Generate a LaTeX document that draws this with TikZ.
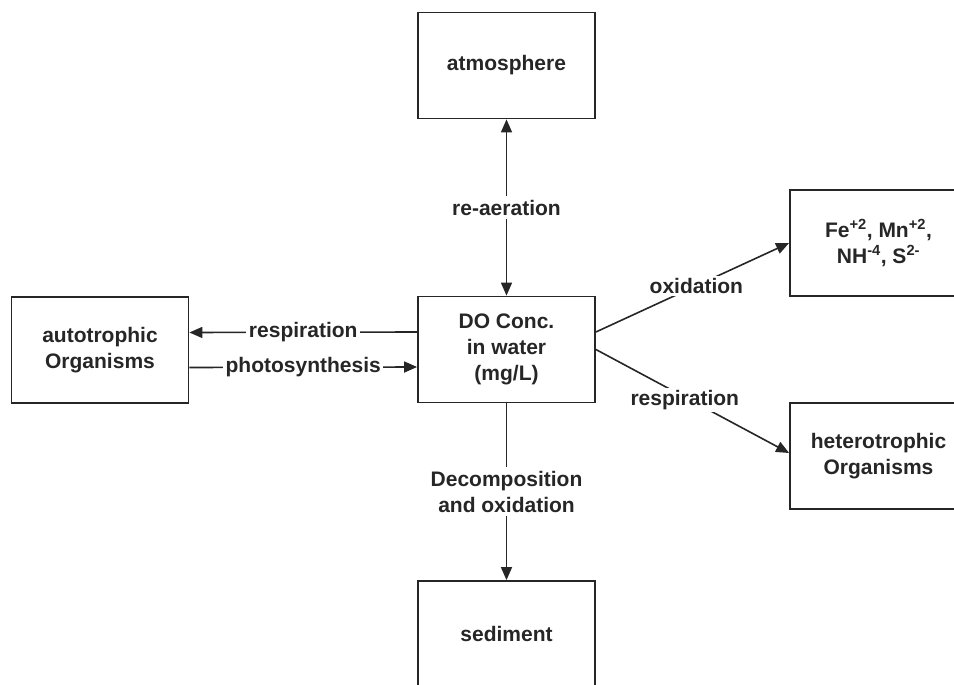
\documentclass[tikz,border=0pt]{standalone}
\usepackage{fontspec}
\setmainfont{Liberation Sans}
\usetikzlibrary{arrows.meta}
\begin{document}
\begin{tikzpicture}[x=1pt,y=-1pt,
  box/.style={draw=black!85, line width=1.8pt, minimum width=177pt, minimum height=106pt,
    align=center, font=\fontsize{21}{26}\selectfont\bfseries, text=black!85, inner sep=0pt},
  conn/.style={draw=black!85, line width=1.6pt},
  tip/.style={-{Triangle[length=13pt,width=11pt]}},
  dtip/.style={{Triangle[length=13pt,width=11pt]}-{Triangle[length=13pt,width=11pt]}},
  lbl/.style={fill=white, inner sep=2.5pt, font=\fontsize{21}{26}\selectfont\bfseries, text=black!85, align=center}]
\useasboundingbox (0,0) rectangle (954,685);
\clip (0,0) rectangle (954,685);
\node[box] (atm) at (506.5,65.5) {atmosphere};
\node[box] (do) at (506.5,349.5) {DO Conc.\\in water\\(mg/L)};
\node[box] (auto) at (100,350) {autotrophic\\Organisms};
\node[box] (sed) at (506.5,634) {sediment};
\node[box] (fe) at (878.5,243) {Fe\textsuperscript{+2}, Mn\textsuperscript{+2},\\NH\textsuperscript{-4}, S\textsuperscript{2-}};
\node[box] (het) at (878.5,456) {heterotrophic\\Organisms};
\draw[conn,dtip] (atm.south) -- node[lbl,inner sep=4pt]{re-aeration} (do.north);
\draw[conn,tip] (do.south) -- node[lbl,inner sep=4pt]{Decomposition\\and oxidation} (sed.north);
\draw[conn,tip] ([yshift=17.5pt]do.west) -- node[lbl]{respiration} ([yshift=17.5pt]auto.east);
\draw[conn,tip] ([yshift=-17.5pt]auto.east) -- node[lbl]{photosynthesis} ([yshift=-17.5pt]do.west);
\draw[conn,tip] ([yshift=17.5pt]do.east) -- node[lbl,pos=0.52]{oxidation} (fe.west);
\draw[conn,tip] (do.east) -- node[lbl,pos=0.46,yshift=-3pt]{respiration} ([yshift=3pt]het.west);
\end{tikzpicture}
\end{document}
